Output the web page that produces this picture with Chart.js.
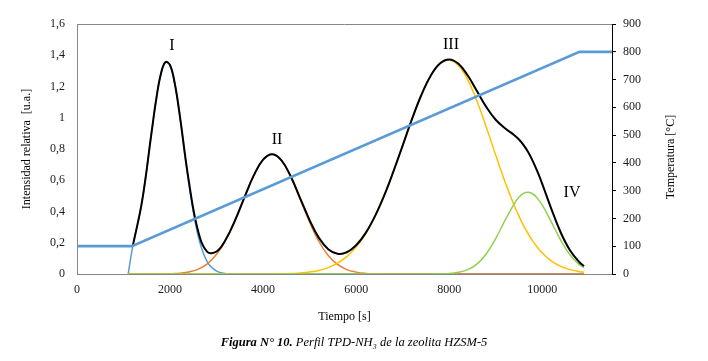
<!DOCTYPE html>
<html>
<head>
<meta charset="utf-8">
<script src="https://cdn.jsdelivr.net/npm/chart.js@4.4.1/dist/chart.umd.min.js"></script>
<style>
  body { margin: 0; background: #fff; }
  #wrap { width: 708px; height: 361px; }
</style>
</head>
<body>
<div id="wrap"><canvas id="tpd" width="708" height="361"></canvas></div>
<script>
// tiempo [s] for the deconvoluted peaks and the total signal
let times = [1100, 1200, 1400, 1600, 1700, 1800, 1900, 2000, 2100, 2200,
    2400, 2600, 2800, 3000, 3200, 3400, 3600, 3800, 4000,
    4200, 4400, 4600, 4800, 5000, 5200, 5400, 5600, 5800, 6000,
    6200, 6400, 6600, 6800, 7000, 7200, 7400, 7600,
    7800, 8000, 8200, 8400, 8600, 8800, 9000, 9200, 9400,
    9500, 9600, 9700, 9800, 9900, 10000, 10200, 10400, 10600, 10800, 10900]

let peakI = [0, 0.180, 0.468, 0.900, 1.113, 1.276, 1.355, 1.335, 1.219, 1.031,
    0.588, 0.248, 0.077, 0.018, 0.003, 0, 0, 0, 0,
    0, 0, 0, 0, 0, 0, 0, 0, 0, 0,
    0, 0, 0, 0, 0, 0, 0, 0,
    0, 0, 0, 0, 0, 0, 0, 0, 0,
    0, 0, 0, 0, 0, 0, 0, 0, 0, 0, 0]

let peakII = [0, 0, 0, 0, 0, 0.001, 0.001, 0.002, 0.003, 0.005,
    0.013, 0.030, 0.065, 0.126, 0.219, 0.345, 0.491, 0.631, 0.732,
    0.766, 0.724, 0.618, 0.476, 0.332, 0.208, 0.118, 0.061, 0.028, 0.012,
    0.004, 0.001, 0, 0, 0, 0, 0, 0,
    0, 0, 0, 0, 0, 0, 0, 0, 0,
    0, 0, 0, 0, 0, 0, 0, 0, 0, 0, 0]

let peakIII = [0, 0, 0, 0, 0, 0, 0, 0, 0, 0,
    0, 0, 0, 0, 0, 0, 0, 0, 0,
    0.001, 0.002, 0.003, 0.007, 0.013, 0.023, 0.041, 0.069, 0.111, 0.172,
    0.256, 0.366, 0.500, 0.655, 0.822, 0.991, 1.144, 1.267,
    1.346, 1.370, 1.334, 1.242, 1.104, 0.938, 0.761, 0.590, 0.437,
    0.370, 0.309, 0.256, 0.209, 0.169, 0.135, 0.083, 0.049, 0.028, 0.015, 0.011]

let peakIV = [0, 0, 0, 0, 0, 0, 0, 0, 0, 0,
    0, 0, 0, 0, 0, 0, 0, 0, 0,
    0, 0, 0, 0, 0, 0, 0, 0, 0, 0,
    0, 0, 0, 0, 0, 0, 0, 0,
    0.001, 0.003, 0.011, 0.028, 0.065, 0.130, 0.226, 0.343, 0.451,
    0.491, 0.516, 0.523, 0.512, 0.484, 0.442, 0.331, 0.215, 0.122, 0.060, 0.040]

let total = [null, 0.180, 0.468, 0.900, 1.113, 1.277, 1.356, 1.337, 1.222, 1.036,
    0.601, 0.278, 0.142, 0.144, 0.222, 0.345, 0.491, 0.631, 0.732,
    0.767, 0.726, 0.621, 0.483, 0.345, 0.231, 0.159, 0.130, 0.139, 0.184,
    0.260, 0.367, 0.500, 0.655, 0.822, 0.991, 1.144, 1.267,
    1.347, 1.373, 1.345, 1.270, 1.169, 1.068, 0.987, 0.933, 0.888,
    0.861, 0.825, 0.779, 0.721, 0.653, 0.577, 0.414, 0.264, 0.150, 0.075, 0.051]

// temperature program (right axis)
let tempTimes = [0, 1180, 10800, 11500]
let tempValues = [100, 100, 800, 800]

// peak names and where they sit
let peakNames = ['I', 'II', 'III', 'IV']
let peakNameX = [2040, 4300, 8040, 10640]
let peakNameY = [1.462, 0.858, 1.469, 0.52]

let xTicks = [0, 2000, 4000, 6000, 8000, 10000]
let leftTicks = [0, 0.2, 0.4, 0.6, 0.8, 1, 1.2, 1.4, 1.6]
let leftTickLabels = ['0', '0,2', '0,4', '0,6', '0,8', '1', '1,2', '1,4', '1,6']
let rightTicks = [0, 100, 200, 300, 400, 500, 600, 700, 800, 900]


function toPoints(xs, ys) {
    return xs.map((x, i) => ({ x: x, y: ys[i] }))
}

const serif = 'Liberation Serif, Times New Roman, serif'

// frame of the plot area, axis titles, peak names and figure caption
const textPlugin = {
    id: 'textPlugin',
    beforeDatasetsDraw(chart) {
        let a = chart.chartArea
        let ctx = chart.ctx
        ctx.save()
        ctx.strokeStyle = '#868686'
        ctx.lineWidth = 1
        ctx.beginPath()
        ctx.moveTo(a.left, a.top + 0.5)
        ctx.lineTo(a.right, a.top + 0.5)
        ctx.stroke()
        ctx.restore()
    },
    afterDraw(chart) {
        let a = chart.chartArea
        let ctx = chart.ctx
        ctx.save()
        ctx.fillStyle = '#000'
        ctx.textAlign = 'center'
        ctx.textBaseline = 'middle'

        ctx.font = '12px ' + serif
        ctx.save()
        ctx.translate(27, (a.top + a.bottom) / 2)
        ctx.rotate(-Math.PI / 2)
        ctx.fillText('Intensidad relativa  [u.a.]', 0, 0)
        ctx.restore()

        ctx.save()
        ctx.translate(671, 157)
        ctx.rotate(-Math.PI / 2)
        ctx.fillText('Temperatura [°C]', 0, 0)
        ctx.restore()

        ctx.fillText('Tiempo [s]', (a.left + a.right) / 2, 317)

        // peak names
        ctx.font = '16px ' + serif
        let xs = chart.scales.x
        let ys = chart.scales.y
        peakNames.forEach((name, i) => {
            ctx.fillText(name, xs.getPixelForValue(peakNameX[i]), ys.getPixelForValue(peakNameY[i]))
        })

        // caption
        let boldPart = 'Figura N° 10.'
        let restPart = ' Perfil TPD-NH₃ de la zeolita HZSM-5'
        ctx.textAlign = 'left'
        ctx.font = 'italic bold 12.5px ' + serif
        let w1 = ctx.measureText(boldPart).width
        ctx.font = 'italic 12.5px ' + serif
        let w2 = ctx.measureText(restPart).width
        let startX = 354 - (w1 + w2) / 2
        ctx.font = 'italic bold 12.5px ' + serif
        ctx.fillText(boldPart, startX, 343)
        ctx.font = 'italic 12.5px ' + serif
        ctx.fillText(restPart, startX + w1, 343)
        ctx.restore()
    }
}

let peakStyle = { borderWidth: 1.5, pointRadius: 0, fill: false, tension: 0.4 }

let chart = new Chart(document.getElementById('tpd'), {
    type: 'line',
    data: {
        datasets: [
            { label: 'Temperatura', data: toPoints(tempTimes, tempValues), yAxisID: 'y2',
              borderColor: '#5B9BD5', borderWidth: 2.75, pointRadius: 0, tension: 0, order: 0 },
            { label: 'Total', data: toPoints(times, total), yAxisID: 'y',
              borderColor: '#000000', borderWidth: 2, pointRadius: 0, tension: 0.4, order: 1 },
            Object.assign({ label: 'IV', data: toPoints(times, peakIV), yAxisID: 'y', borderColor: '#92D050', order: 2 }, peakStyle),
            Object.assign({ label: 'III', data: toPoints(times, peakIII), yAxisID: 'y', borderColor: '#FFC000', order: 3 }, peakStyle),
            Object.assign({ label: 'II', data: toPoints(times, peakII), yAxisID: 'y', borderColor: '#ED7D31', order: 4 }, peakStyle),
            Object.assign({ label: 'I', data: toPoints(times, peakI), yAxisID: 'y', borderColor: '#5B9BD5', order: 5 }, peakStyle)
        ]
    },
    options: {
        responsive: false,
        animation: false,
        layout: { padding: { top: 24, left: 0, right: 0, bottom: 0 } },
        plugins: {
            legend: { display: false },
            tooltip: { enabled: false }
        },
        scales: {
            x: {
                type: 'linear',
                min: 0,
                max: 11500,
                afterBuildTicks: (scale) => { scale.ticks = xTicks.map(v => ({ value: v })) },
                afterFit: (scale) => { scale.height = 87 },
                grid: { drawOnChartArea: false, drawTicks: false },
                border: { color: '#868686', width: 1 },
                ticks: { padding: 9, color: '#1a1a1a', font: { family: serif, size: 12 }, maxRotation: 0,
                         callback: (value) => String(value) }
            },
            y: {
                position: 'left',
                min: 0,
                max: 1.6,
                afterBuildTicks: (scale) => { scale.ticks = leftTicks.map(v => ({ value: v })) },
                afterFit: (scale) => { scale.width = 77 },
                grid: { drawOnChartArea: false, drawTicks: false },
                border: { color: '#868686', width: 1 },
                ticks: { padding: 12, color: '#1a1a1a', font: { family: serif, size: 12 },
                         callback: (value, index) => leftTickLabels[index] }
            },
            y2: {
                position: 'right',
                min: 0,
                max: 900,
                afterBuildTicks: (scale) => { scale.ticks = rightTicks.map(v => ({ value: v })) },
                afterFit: (scale) => { scale.width = 96 },
                grid: { drawOnChartArea: false, drawTicks: true, tickLength: 4, color: '#000000' },
                border: { color: '#000000', width: 1 },
                ticks: { padding: 7, color: '#1a1a1a', font: { family: serif, size: 12 },
                         callback: (value) => String(value) }
            }
        }
    },
    plugins: [textPlugin]
})
</script>
</body>
</html>
